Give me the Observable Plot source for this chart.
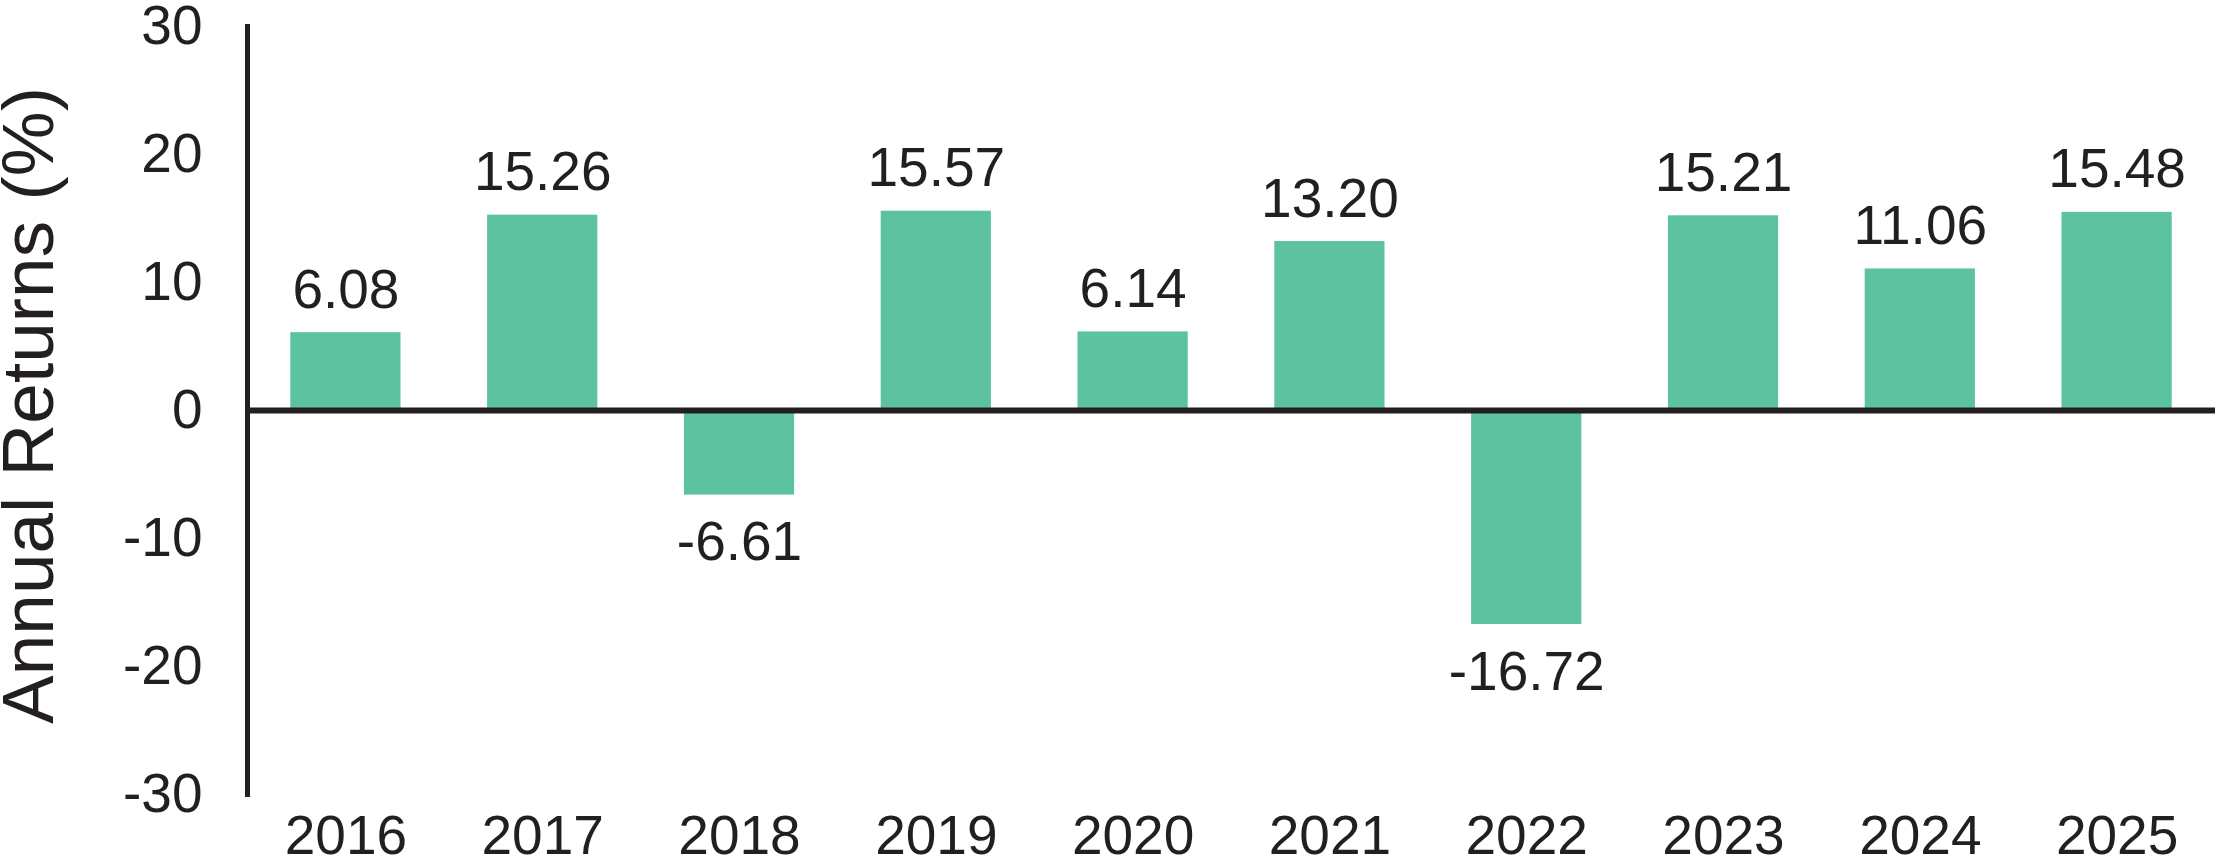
<!DOCTYPE html>
<html>
<head>
<meta charset="utf-8">
<script src="https://cdn.jsdelivr.net/npm/d3@7"></script>
<script src="https://cdn.jsdelivr.net/npm/@observablehq/plot@0.6"></script>
<style>
  html, body { margin: 0; padding: 0; background: #ffffff; }
</style>
</head>
<body>
<div id="chart"></div>
<script>
const years = ["2016", "2017", "2018", "2019", "2020", "2021", "2022", "2023", "2024", "2025"];
const returns = [6.08, 15.26, -6.61, 15.57, 6.14, 13.20, -16.72, 15.21, 11.06, 15.48];
const yTicks = [-30, -20, -10, 0, 10, 20, 30];
const yLabel = "Annual Returns (%)";

const data = years.map((year, i) => ({year, value: returns[i]}));
const ink = "#231F20";
const green = "#5CC2A0";

const chart = Plot.plot({
  width: 2217,
  height: 858,
  marginLeft: 247,
  marginRight: 2,
  marginTop: 26,
  marginBottom: 64,
  style: {fontFamily: "'Liberation Sans', Arial, sans-serif", color: ink, background: "#ffffff"},
  x: {type: "band", domain: years, paddingInner: 0.44, paddingOuter: 0.22, align: 0.5, round: false},
  y: {domain: [-30, 30]},
  marks: [
    Plot.barY(data, {x: "year", y: "value", fill: green}),
    Plot.ruleY([0], {stroke: ink, strokeWidth: 6}),
    Plot.frame({anchor: "left", stroke: ink, strokeWidth: 5}),
    Plot.axisY({ticks: yTicks, tickSize: 0, tickPadding: 45, tickFormat: d => String(d), fontSize: 55, label: null}),
    Plot.axisX({tickSize: 0, tickPadding: 20, fontSize: 55, label: null}),
    Plot.text(data.filter(d => d.value >= 0), {x: "year", y: "value", text: d => d.value.toFixed(2), lineAnchor: "bottom", dy: -25, fontSize: 55, fill: ink}),
    Plot.text(data.filter(d => d.value < 0), {x: "year", y: "value", text: d => d.value.toFixed(2), lineAnchor: "top", dy: 26, fontSize: 55, fill: ink}),
    Plot.text([yLabel], {frameAnchor: "left", textAnchor: "middle", rotate: -90, dx: -218, dy: -5, lineAnchor: "middle", fontSize: 73, fill: ink})
  ]
});
document.getElementById("chart").appendChild(chart);
</script>
</body>
</html>
